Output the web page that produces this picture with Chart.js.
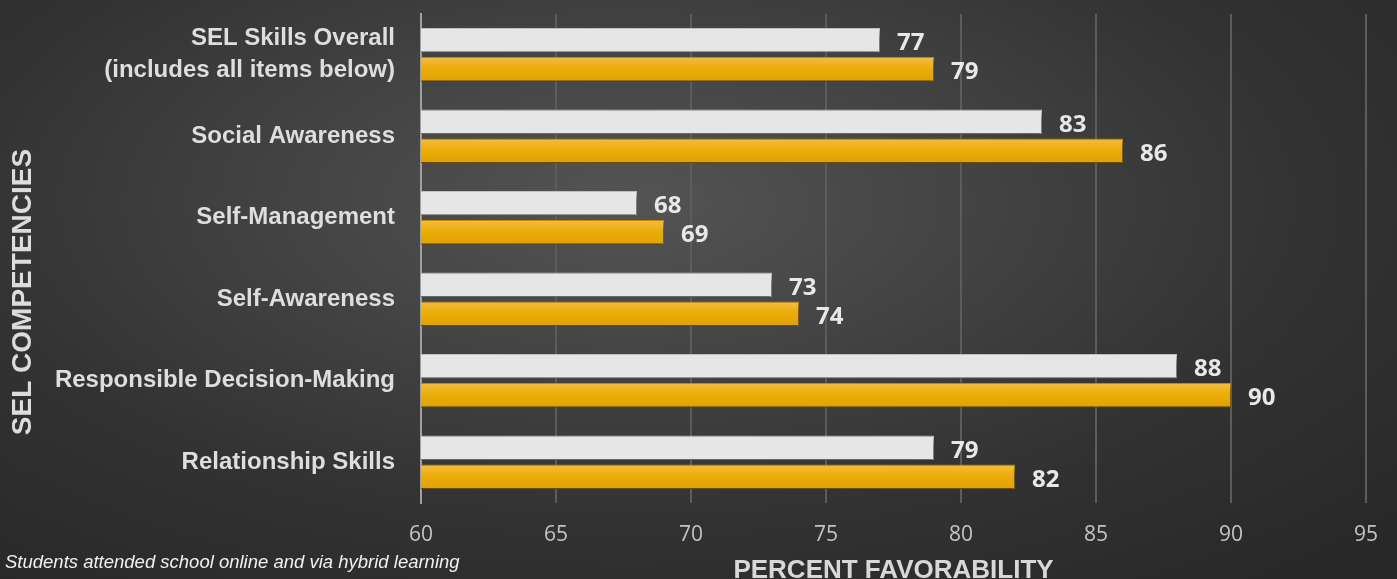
<!DOCTYPE html>
<html lang="en">
  <head>
    <meta charset="UTF-8" />
    <title>SEL Competencies</title>
    <style>
      * {
        margin: 0;
        padding: 0;
      }
      body {
        width: 1397px;
        height: 579px;
        overflow: hidden;
        background: radial-gradient(ellipse 75% 85% at 45% 35%, #545454 0%, #424242 35%, #323232 65%, #282828 100%);
      }
      .chartBox {
        width: 1397px;
        height: 579px;
      }
    </style>
  </head>
  <body>
    <div class="chartBox">
      <canvas id="myChart"></canvas>
    </div>

    <script src="https://cdn.jsdelivr.net/npm/chart.js"></script>
    <script>
      const categories = [
        ["SEL Skills Overall", "(includes all items below)"],
        "Social Awareness",
        "Self-Management",
        "Self-Awareness",
        "Responsible Decision-Making",
        "Relationship Skills",
      ];
      const whiteValues = [77, 83, 68, 73, 88, 79];
      const goldValues = [79, 86, 69, 74, 90, 82];
      const xMin = 60;
      const xMax = 95;
      const xStep = 5;
      const yTitle = "SEL COMPETENCIES";
      const xTitle = "PERCENT FAVORABILITY";
      const footnote = "Students attended school online and via hybrid learning";

      // shadows under bars, vertical gradient on gold bars, value labels, extra texts
      const barStyle = {
        id: "barStyle",
        beforeDatasetsDraw(chart) {
          const ctx = chart.ctx;
          chart.getDatasetMeta(1).data.forEach((bar) => {
            const h = bar.height;
            const g = ctx.createLinearGradient(0, bar.y - h / 2, 0, bar.y + h / 2);
            g.addColorStop(0, "#f2bd45");
            g.addColorStop(0.45, "#ecad0a");
            g.addColorStop(1, "#dfa200");
            bar.options = Object.assign({}, bar.options, { backgroundColor: g });
          });
          ctx.save();
          ctx.shadowColor = "rgba(0,0,0,0.55)";
          ctx.shadowBlur = 6;
          ctx.shadowOffsetX = 2;
          ctx.shadowOffsetY = 4;
        },
        afterDatasetsDraw(chart) {
          const ctx = chart.ctx;
          ctx.restore();
          ctx.save();
          ctx.font = "bold 24px 'Open Sans'";
          ctx.fillStyle = "#e8e8e8";
          ctx.textAlign = "left";
          ctx.textBaseline = "middle";
          chart.data.datasets.forEach((ds, i) => {
            chart.getDatasetMeta(i).data.forEach((bar, j) => {
              ctx.fillText(ds.data[j], bar.x + 17, bar.y + 3);
            });
          });
          ctx.restore();
        },
        afterDraw(chart) {
          const ctx = chart.ctx;
          ctx.save();
          ctx.fillStyle = "#dcdcdc";
          ctx.font = "bold 28px 'Liberation Sans'";
          ctx.textAlign = "center";
          ctx.textBaseline = "middle";
          ctx.translate(23, 292);
          ctx.rotate(-Math.PI / 2);
          ctx.fillText(yTitle, 0, 0);
          ctx.restore();

          ctx.save();
          ctx.fillStyle = "#f0f0f0";
          ctx.font = "italic 18.5px 'Liberation Sans'";
          ctx.textAlign = "left";
          ctx.textBaseline = "middle";
          ctx.fillText(footnote, 5, 563);
          ctx.restore();
        },
      };

      const ctx = document.getElementById("myChart");
      const myChart = new Chart(ctx, {
        type: "bar",
        data: {
          labels: categories,
          datasets: [
            {
              label: "Comparison",
              data: whiteValues,
              backgroundColor: "#e6e6e6",
              borderColor: "#c8c8c8",
              borderWidth: 1,
              categoryPercentage: 0.71,
              barPercentage: 0.845,
            },
            {
              label: "Current",
              data: goldValues,
              backgroundColor: "#ebab05",
              borderColor: "#c98f00",
              borderWidth: 1,
              categoryPercentage: 0.71,
              barPercentage: 0.845,
            },
          ],
        },
        options: {
          indexAxis: "y",
          responsive: true,
          maintainAspectRatio: false,
          animation: false,
          devicePixelRatio: 1,
          layout: {
            padding: { top: 14, right: 31, bottom: 0, left: 0 },
          },
          plugins: {
            legend: { display: false },
            tooltip: { enabled: false },
          },
          scales: {
            x: {
              min: xMin,
              max: xMax,
              afterFit: (scale) => {
                scale.height = 76;
                scale.paddingLeft = 0;
                scale.paddingRight = 0;
              },
              ticks: {
                stepSize: xStep,
                padding: 19,
                color: "#c4c4c4",
                font: { family: "'Open Sans'", size: 21 },
              },
              grid: {
                color: (c) => (c.index === 0 ? "#a0a0a0" : "#5c5c5c"),
                lineWidth: 2,
                drawTicks: false,
              },
              border: { display: false },
              title: {
                display: true,
                text: xTitle,
                color: "#d8d8d8",
                font: { family: "'Liberation Sans'", size: 26, weight: "bold", lineHeight: 1 },
                padding: { top: 0, bottom: -5 },
              },
            },
            y: {
              afterFit: (scale) => {
                scale.width = 421;
                scale.paddingTop = 0;
                scale.paddingBottom = 0;
              },
              ticks: {
                padding: 26,
                color: "#dedede",
                font: { family: "'Liberation Sans'", size: 24, weight: "bold", lineHeight: 1.33 },
              },
              grid: { display: false, drawTicks: false },
              border: { color: "#a0a0a0", width: 2 },
            },
          },
        },
        plugins: [barStyle],
      });
    </script>
  </body>
</html>
